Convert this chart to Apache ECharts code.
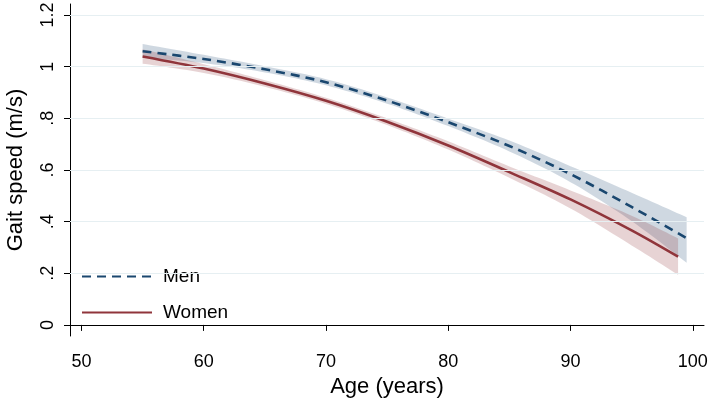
<!DOCTYPE html>
<html>
<head>
<meta charset="utf-8">
<script src="https://cdn.jsdelivr.net/npm/echarts@6/dist/echarts.min.js"></script>
<style>html,body{margin:0;padding:0;background:#fff}#c{width:709px;height:403px}</style>
</head>
<body>
<div id="c"></div>
<script>
// ---- data ----
const menAges    = [55, 60, 65, 70, 75, 80, 85, 90, 95, 99.5];
const menSpeed   = [1.060, 1.030, 0.990, 0.940, 0.869, 0.785, 0.693, 0.584, 0.457, 0.336];
const menLower   = [1.035, 1.014, 0.978, 0.928, 0.857, 0.770, 0.672, 0.553, 0.402, 0.241];
const menUpper   = [1.088, 1.046, 1.002, 0.952, 0.881, 0.799, 0.714, 0.615, 0.512, 0.417];

const womenAges  = [55, 60, 65, 70, 75, 80, 85, 90, 95, 98.8];
const womenSpeed = [1.040, 0.993, 0.935, 0.868, 0.787, 0.695, 0.592, 0.486, 0.366, 0.264];
const womenLower = [1.012, 0.976, 0.922, 0.856, 0.774, 0.679, 0.570, 0.451, 0.308, 0.194];
const womenUpper = [1.068, 1.010, 0.948, 0.880, 0.800, 0.711, 0.614, 0.521, 0.423, 0.335];

const xTicks = [50, 60, 70, 80, 90, 100];
const yTicks = [0, 0.2, 0.4, 0.6, 0.8, 1, 1.2];
const yGridLines = [0.2, 0.4, 0.6, 0.8, 1, 1.2];

const FONT = 'Liberation Sans, Arial, Helvetica, sans-serif';
const MEN_C = '#1a476f', WOMEN_C = '#90353b';

const pairs = (xs, ys) => xs.map((x, i) => [x, ys[i]]);

// Catmull-Rom sampling of pixel points (rendering helper only)
function splinePoints(P) {
  const out = [];
  const n = P.length;
  const g = i => P[Math.max(0, Math.min(n - 1, i))];
  for (let i = 0; i < n - 1; i++) {
    const p0 = g(i - 1), p1 = g(i), p2 = g(i + 1), p3 = g(i + 2);
    const c1 = [p1[0] + (p2[0] - p0[0]) / 6, p1[1] + (p2[1] - p0[1]) / 6];
    const c2 = [p2[0] - (p3[0] - p1[0]) / 6, p2[1] - (p3[1] - p1[1]) / 6];
    const steps = 12;
    for (let s = (i === 0 ? 0 : 1); s <= steps; s++) {
      const t = s / steps, u = 1 - t;
      out.push([
        u*u*u*p1[0] + 3*u*u*t*c1[0] + 3*u*t*t*c2[0] + t*t*t*p2[0],
        u*u*u*p1[1] + 3*u*u*t*c1[1] + 3*u*t*t*c2[1] + t*t*t*p2[1]
      ]);
    }
  }
  return out;
}

function bandRenderer(ages, lo, hi, color) {
  return function (params, api) {
    if (params.dataIndex !== 0) return null;
    const up = splinePoints(ages.map((a, i) => api.coord([a, hi[i]])));
    const dn = splinePoints(ages.map((a, i) => api.coord([a, lo[i]]))).reverse();
    return {
      type: 'polygon',
      shape: {points: up.concat(dn)},
      style: {fill: color},
      silent: true
    };
  };
}

const chart = echarts.init(document.getElementById('c'), null, {renderer: 'canvas'});
const SM = 0.33;
chart.setOption({
  animation: false,
  backgroundColor: '#fff',
  textStyle: {fontFamily: FONT},
  grid: {left: 70, right: 5, top: 4, bottom: 67, containLabel: false, outerBoundsMode: 'none'},
  legend: {
    data: ['Men', 'Women'],
    orient: 'vertical',
    left: 76, top: 262,
    itemWidth: 70, itemHeight: 14, itemGap: 17,
    itemStyle: {opacity: 0},
    textStyle: {fontSize: 19, color: '#000', fontFamily: FONT, padding: [0, 0, 0, 6]}
  },
  xAxis: {
    type: 'value', min: 49.06, max: 100.92,
    name: 'Age (years)', nameLocation: 'middle', nameGap: 34,
    nameTextStyle: {fontSize: 22, color: '#000', fontFamily: FONT},
    axisLine: {show: true, lineStyle: {color: '#000', width: 1}},
    axisTick: {show: true, length: 6, customValues: xTicks, lineStyle: {color: '#000'}},
    axisLabel: {customValues: xTicks, fontSize: 18, color: '#000', margin: 17, fontFamily: FONT},
    splitLine: {show: false}
  },
  yAxis: {
    type: 'value', min: -0.043, max: 1.243,
    name: 'Gait speed (m/s)', nameLocation: 'middle', nameGap: 43,
    nameTextStyle: {fontSize: 22, color: '#000', fontFamily: FONT},
    axisLine: {show: true, lineStyle: {color: '#000', width: 1}},
    axisTick: {show: true, length: 6, customValues: yTicks, lineStyle: {color: '#000'}},
    axisLabel: {
      customValues: yTicks, fontSize: 18, color: '#000', rotate: 90, margin: 13, fontFamily: FONT,
      formatter: v => (v === 0 ? '0' : String(+v.toFixed(2)).replace(/^0\./, '.'))
    },
    splitLine: {show: false}
  },
  series: [
    {
      name: 'gridHost', type: 'line', symbol: 'none', z: 0, silent: true,
      data: pairs(menAges, menSpeed), lineStyle: {opacity: 0},
      markLine: {
        silent: true, symbol: 'none', label: {show: false},
        lineStyle: {color: '#e6eff2', width: 1.2, type: 'solid'},
        data: yGridLines.map(v => ({yAxis: v}))
      }
    },
    {
      name: 'menBand', type: 'custom', z: 2, silent: true,
      data: menAges.map((a, i) => [a, menLower[i], menUpper[i]]),
      encode: {x: 0, y: [1, 2]},
      renderItem: bandRenderer(menAges, menLower, menUpper, 'rgba(26,71,111,0.21)')
    },
    {
      name: 'womenBand', type: 'custom', z: 2, silent: true,
      data: womenAges.map((a, i) => [a, womenLower[i], womenUpper[i]]),
      encode: {x: 0, y: [1, 2]},
      renderItem: bandRenderer(womenAges, womenLower, womenUpper, 'rgba(144,53,59,0.22)')
    },
    {
      name: 'Men', type: 'line', smooth: SM, symbol: 'none', z: 4,
      data: pairs(menAges, menSpeed), color: MEN_C,
      lineStyle: {color: MEN_C, width: 2.6, type: [9, 6]}
    },
    {
      name: 'Women', type: 'line', smooth: SM, symbol: 'none', z: 4,
      data: pairs(womenAges, womenSpeed), color: WOMEN_C,
      lineStyle: {color: WOMEN_C, width: 2.6, type: 'solid'}
    }
  ]
});
</script>
</body>
</html>
